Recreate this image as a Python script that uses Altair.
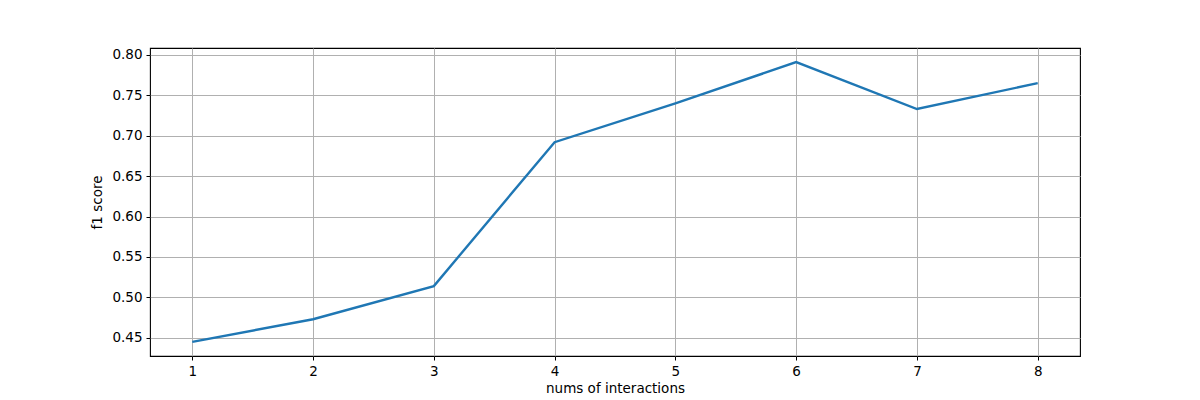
import altair as alt
import pandas as pd

interactions = [1, 2, 3, 4, 5, 6, 7, 8]
f1_scores = [0.445, 0.473, 0.514, 0.692, 0.740, 0.791, 0.733, 0.765]

df = pd.DataFrame({"interactions": interactions, "f1": f1_scores})

font = "DejaVu Sans"

chart = alt.Chart(df).mark_line(color="#1f77b4", strokeWidth=2.4).encode(
    x=alt.X("interactions:Q",
            scale=alt.Scale(domain=[0.65, 8.35], nice=False, zero=False),
            axis=alt.Axis(values=interactions, format="d", title="nums of interactions",
                          grid=True, gridColor="#b0b0b0", gridWidth=1,
                          domain=False, tickColor="black", tickSize=4, tickWidth=1,
                          labelFont=font, labelFontSize=13.5, labelColor="black", labelPadding=4,
                          titleFont=font, titleFontSize=13.5, titleFontWeight="normal",
                          titleColor="black", titlePadding=4)),
    y=alt.Y("f1:Q",
            scale=alt.Scale(domain=[0.4275, 0.8085], nice=False, zero=False),
            axis=alt.Axis(values=[0.45, 0.50, 0.55, 0.60, 0.65, 0.70, 0.75, 0.80],
                          format=".2f", title="f1 score",
                          grid=True, gridColor="#b0b0b0", gridWidth=1,
                          domain=False, tickColor="black", tickSize=4, tickWidth=1,
                          labelFont=font, labelFontSize=13.5, labelColor="black", labelPadding=4,
                          titleFont=font, titleFontSize=13.5, titleFontWeight="normal",
                          titleColor="black", titlePadding=7)),
).properties(
    width=930,
    height=308,
    background="white",
    autosize=alt.AutoSizeParams(type="none"),
    padding={"left": 142, "top": 40, "right": 104, "bottom": 44},
).configure_view(
    stroke="black", strokeWidth=1.1
)

chart.save("out.html", embed_options={"renderer": "svg", "actions": False})
